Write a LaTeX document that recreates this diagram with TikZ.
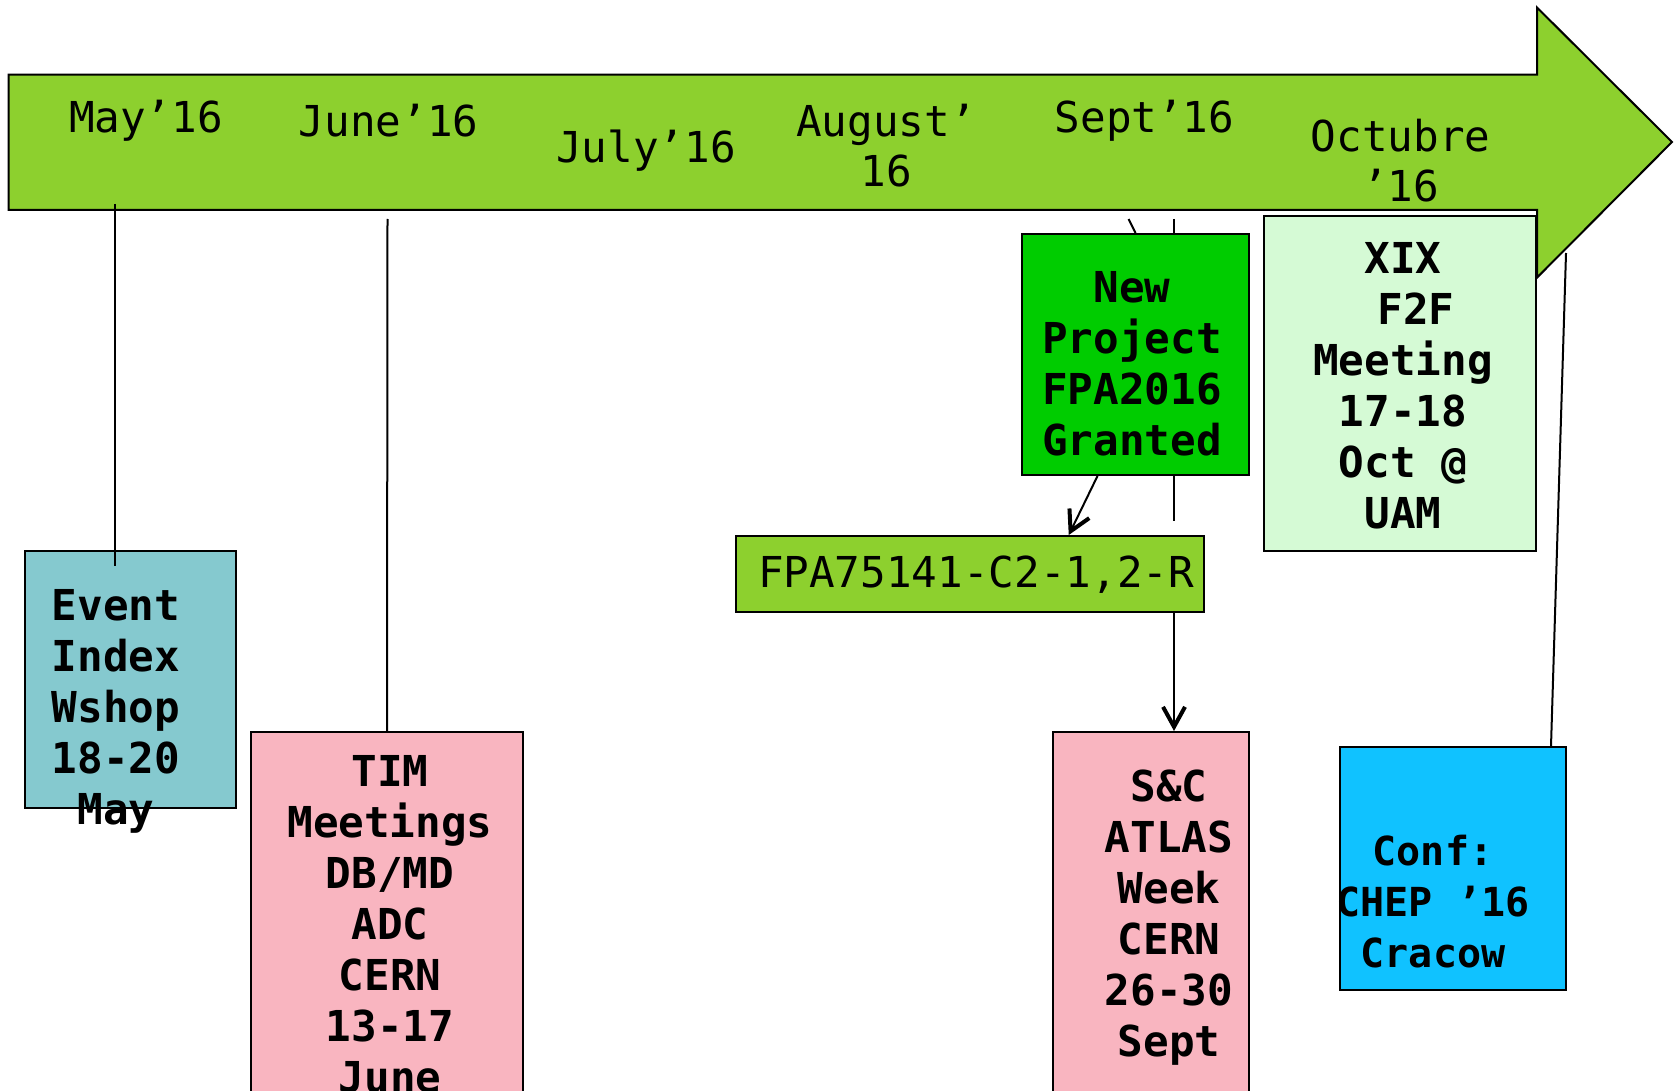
\documentclass[tikz,border=0pt]{standalone}
\usepackage{fontspec}
\setmonofont{DejaVu Sans Mono}
\usepackage{xcolor}
\usetikzlibrary{arrows.meta}

\definecolor{bargreen}{RGB}{141,208,46}
\definecolor{grantgreen}{RGB}{0,204,0}
\definecolor{eventblue}{RGB}{133,201,207}
\definecolor{meetpink}{RGB}{249,181,192}
\definecolor{paleg}{RGB}{213,250,213}
\definecolor{confblue}{RGB}{16,194,255}

\begin{document}
\begin{tikzpicture}[x=0.5pt, y=-0.5pt,
    month/.style={font=\ttfamily\fontsize{21.3pt}{25pt}\selectfont, align=center, inner sep=0pt},
    box/.style={draw, line width=1pt, inner sep=0pt},
    boxtext/.style={font=\ttfamily\bfseries\fontsize{21.3pt}{25.5pt}\selectfont, align=center, inner sep=0pt},
    link/.style={line width=1pt},
    arr/.style={link, -{Straight Barb[length=10pt,width=11pt,line width=2pt]}}]

    \clip (0,0) rectangle (1674,1091);

    % Timeline arrow
    \draw[fill=bargreen, line width=1pt] (8.5,74.7) -- (1537,74.7) -- (1537,7.5) -- (1672,142)
        -- (1537,277.6) -- (1537,210) -- (8.5,210) -- cycle;

    % Months
    \node[month] (may) at (146,121) {May’16};
    \node[month] (june) at (388.6,121) {June’16};
    \node[month] (july) at (646,150.5) {July’16};
    \node[month] (aug) at (886,146) {August’\\16};
    \node[month] (sept) at (1144.5,121) {Sept’16};
    \node[month] (oct) at (1400.7,160.5) {Octubre\\’16};

    % Tick points on the bar
    \coordinate (maytop) at (115,204);
    \coordinate (mayend) at (115,566);
    \coordinate (junetop) at (387.5,219);
    \coordinate (granttop) at (1128.5,219);
    \coordinate (septtop) at (1174,219);
    \coordinate (septend) at (1174,521);
    \coordinate (conftop) at (1566,253);

    % Line behind the grant box
    \draw[link] (septtop) -- (septend);

    % Event boxes
    \node[box, fill=eventblue, minimum width=105.7pt, minimum height=128.5pt] (event) at (130.3,679.5) {};
    \node[box, fill=meetpink, minimum width=136pt, minimum height=189pt] (tim) at (387,921) {};
    \node[box, fill=grantgreen, minimum width=113.5pt, minimum height=120.5pt] (proj) at (1135.5,354.5) {};
    \node[box, fill=bargreen, minimum width=234.25pt, minimum height=38pt] (fpa) at (969.75,574) {};
    \node[box, fill=meetpink, minimum width=98.2pt, minimum height=189pt] (sc) at (1150.8,921) {};
    \node[box, fill=paleg, minimum width=136pt, minimum height=167.5pt] (xix) at (1400,383.5) {};
    \node[box, fill=confblue, minimum width=113pt, minimum height=121.5pt] (conf) at (1453,868.5) {};

    % Box texts
    \node[boxtext] (event-t) at (116,711) {Event\\Index\\Wshop\\18-20\\May};
    \node[boxtext] (tim-t) at (390,924.5) {TIM\\Meetings\\DB/MD\\ADC\\CERN\\13-17\\June};
    \node[boxtext] (proj-t) at (1132,363.5) {New\\Project\\FPA2016\\Granted};
    \node[month] (fpa-t) at (976,575) {FPA75141-C2-1,2-R};
    \node[boxtext] (sc-t) at (1169,918) {S\&C\\ATLAS\\Week\\CERN\\26-30\\Sept};
    \node[boxtext] (xix-t) at (1403,386) {XIX\\~F2F\\Meeting\\17-18\\Oct @\\UAM};
    \node[boxtext, font=\ttfamily\bfseries\fontsize{20pt}{25.5pt}\selectfont] (conf-t) at (1433,902) {Conf:\\CHEP ’16\\Cracow};

    % Connectors
    \draw[link] (maytop) -- (mayend);
    \draw[link] (junetop) -- (tim.north);
    \draw[link] (granttop) -- (proj.north);
    \draw[arr] ([xshift=-19pt]proj.south) -- ([xshift=49.5pt]fpa.north);
    \draw[arr] (fpa.south -| septtop) -- (sc.north -| septtop);
    \draw[link] (conftop) -- ([xshift=49pt]conf.north);
\end{tikzpicture}
\end{document}
